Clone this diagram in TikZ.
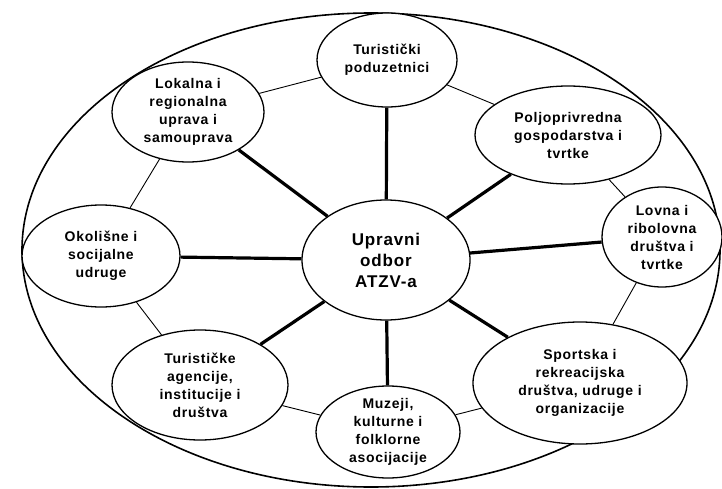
\documentclass[tikz,border=0pt]{standalone}
\usepackage{fontspec}
\setmainfont{Liberation Sans}[LetterSpace=5]
\usetikzlibrary{shapes.geometric}

\begin{document}
\begin{tikzpicture}[x=1pt, y=-1pt]
        \tikzset{group/.style={ellipse, draw, line width=1.3pt, fill=white, align=center, inner sep=-8pt,
                font=\fontsize{14}{18}\selectfont\bfseries}}
        \tikzset{spoke/.style={line width=3.2pt}}
        \tikzset{ring/.style={line width=0.9pt}}

        \useasboundingbox (0,0) rectangle (722,489);
        % outer ellipse
        \draw [line width=1.6pt] (371,250) ellipse [x radius=349, y radius=237];

        \node [group, minimum width=140, minimum height=94] (tp) at (387,60) {Turistički\\poduzetnici};
        \node [group, minimum width=152, minimum height=100] (lok) at (188,112) {Lokalna i\\regionalna\\uprava i\\samouprava};
        \node [group, minimum width=186, minimum height=98] (pol) at (568,135) {Poljoprivredna\\gospodarstva i\\tvrtke};
        \node [group, minimum width=120, minimum height=100] (lov) at (662,237) {Lovna i\\ribolovna\\društva i\\tvrtke};
        \node [group, minimum width=158, minimum height=102] (oko) at (101,256) {Okolišne i\\socijalne\\udruge};
        \node [group, minimum width=176, minimum height=110] (tag) at (200,385) {Turističke\\agencije,\\institucije i\\društva};
        \node [group, minimum width=144, minimum height=92] (muz) at (388,432) {Muzeji,\\kulturne i\\folklorne\\asocijacije};
        \node [group, minimum width=214, minimum height=122] (spo) at (580,383) {Sportska i\\rekreacijska\\društva, udruge i\\organizacije};
        \node [group, minimum width=168, minimum height=120, font=\fontsize{17}{21}\selectfont\bfseries] (upr) at (386,260) {Upravni\\odbor\\ATZV-a};

        % spokes
        \foreach \g in {tp, lok, pol, lov, oko, tag, muz, spo}
            \draw [spoke] (upr) -- (\g);

        % ring
        \draw [ring] (lok) -- (tp);
        \draw [ring] (tp) -- (pol);
        \draw [ring] (pol) -- (lov);
        \draw [ring] (lov) -- (spo);
        \draw [ring] (spo) -- (muz);
        \draw [ring] (muz) -- (tag);
        \draw [ring] (tag) -- (oko);
        \draw [ring] (oko) -- (lok);
    \end{tikzpicture}
\end{document}
